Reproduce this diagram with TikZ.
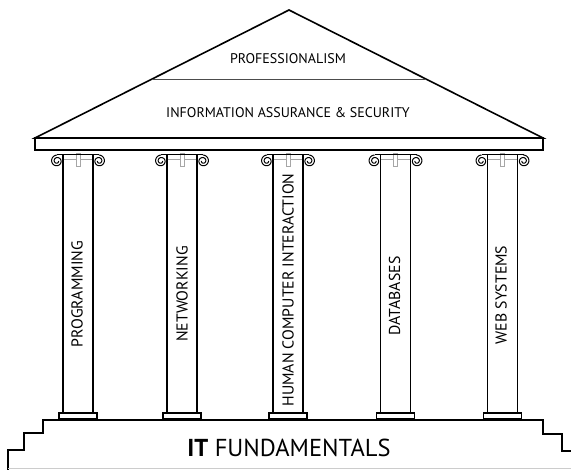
\documentclass[tikz,border=0pt]{standalone}
\usepackage{fontspec}
\setmainfont{PT Sans}
\begin{document}
\begin{tikzpicture}[x=1pt, y=-1pt,
  outline/.style={line width=1.6pt, line join=miter},
  shaft/.style={line width=1.2pt},
  trim/.style={line width=0.7pt, draw=black!35},
  scroll/.style={line width=1pt},
  label/.style={font=\fontsize{14}{16}\selectfont, inner sep=0pt},
  pillar/.style={font=\fontsize{15.8}{18}\selectfont, inner sep=0pt, rotate=90}]
% Keep the page at the size of the picture
\useasboundingbox (0,0) rectangle (571,470);

% Roof
\draw[outline] (35,138) -- (289,10) -- (543,138) -- cycle;
\draw[line width=0.8pt, black!70] (152,79) -- (426,79);
\draw[outline] (35,138) rectangle (543,150);
\node[label] (prof) at (288,59) {PROFESSIONALISM};
\node[label] (ias) at (288,113) {INFORMATION ASSURANCE \& SECURITY};

% One column, #1 is its centre
\def\column#1{
  \draw[trim] (#1-15,159) -- (#1+15,159);
  \draw[trim, fill=white] (#1-2,153) rectangle (#1+2,166);
  \draw[shaft] (#1-15,155) -- (#1-15,413) (#1+15,155) -- (#1+15,413);
  \draw[shaft] (#1-19,413) rectangle (#1+19,419);
  \draw[scroll] (#1-21,155) -- (#1+21,155);
  \draw[scroll] plot[domain=90:720, samples=60, smooth] ({#1-21+(6-4.5*(\x-90)/630)*cos(\x)}, {161-(6-4.5*(\x-90)/630)*sin(\x)});
  \draw[scroll] plot[domain=90:720, samples=60, smooth] ({#1+21-(6-4.5*(\x-90)/630)*cos(\x)}, {161-(6-4.5*(\x-90)/630)*sin(\x)});
}
\column{78}
\column{182}
\column{288}
\column{395.5}
\column{502.5}
\node[pillar] (prog) at (77,294) {PROGRAMMING};
\node[pillar] (net) at (182,294) {NETWORKING};
\node[pillar] (hci) at (288,290) {HUMAN COMPUTER INTERACTION};
\node[pillar] (db) at (394.5,296) {DATABASES};
\node[pillar] (web) at (501,295) {WEB SYSTEMS};

% Base with steps
\draw[line width=2pt] (8,470) -- (8,450) -- (24,450) -- (24,433) -- (43,433) -- (43,420) -- (543,420) -- (543,434) -- (562,434) -- (562,451) -- (571,451);
\draw[line width=0.8pt, black!20] (8,468.5) -- (571,468.5);
\node[inner sep=0pt, font=\fontsize{24.5}{28}\selectfont] (base) at (289,447.5) {\textbf{IT} FUNDAMENTALS};
\end{tikzpicture}
\end{document}
